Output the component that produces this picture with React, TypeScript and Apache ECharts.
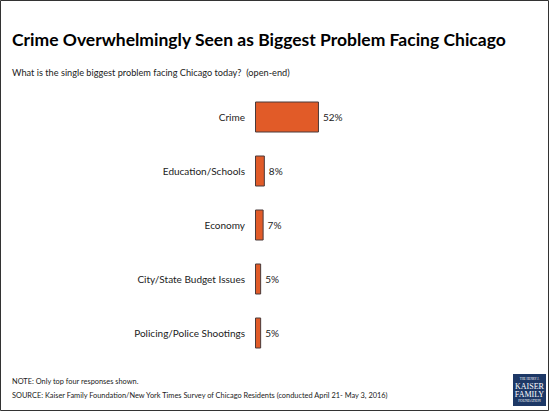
import React, { useEffect, useRef } from "react";
import * as echarts from "echarts";

const categories = [
  "Crime",
  "Education/Schools",
  "Economy",
  "City/State Budget Issues",
  "Policing/Police Shootings",
];
const values = [52, 8, 7, 5, 5];

const titleText = "Crime Overwhelmingly Seen as Biggest Problem Facing Chicago";
const subtitleText = "What is the single biggest problem facing Chicago today?  (open-end)";
const noteText = "NOTE: Only top four responses shown.";
const sourceText =
  "SOURCE: Kaiser Family Foundation/New York Times Survey of Chicago Residents (conducted April 21- May 3, 2016)";

const FONT = "Lato, 'Open Sans', sans-serif";

export default function App() {
  const ref = useRef<HTMLDivElement>(null);
  useEffect(() => {
    if (!ref.current) return;
    const chart = echarts.init(ref.current, undefined, { renderer: "svg" });
    chart.setOption({
      animation: false,
      backgroundColor: "#ffffff",
      grid: { left: 255, top: 90, width: 123, height: 270, containLabel: false },
      xAxis: { type: "value", min: 0, max: 100, show: false },
      yAxis: {
        type: "category",
        data: categories,
        inverse: true,
        axisLine: { show: false },
        axisTick: { show: false },
        axisLabel: { color: "#222", fontSize: 10, fontFamily: FONT, margin: 10 },
      },
      series: [
        {
          type: "bar",
          data: values,
          barWidth: 31,
          itemStyle: { color: "#E15B28", borderColor: "#4a3a3a", borderWidth: 1 },
          label: {
            show: true,
            position: "right",
            distance: 4,
            formatter: "{c}%",
            color: "#222",
            fontSize: 10,
            fontFamily: FONT,
          },
        },
      ],
      graphic: [
        {
          type: "rect",
          shape: { x: 0.5, y: 0.5, width: 548, height: 410 },
          style: { fill: "none", stroke: "#333", lineWidth: 1 },
          silent: true,
        },
        {
          type: "text",
          left: 12,
          top: 30,
          style: { text: titleText, fill: "#000", font: `bold 17.5px ${FONT}` },
        },
        {
          type: "text",
          left: 12,
          top: 68,
          style: { text: subtitleText, fill: "#222", font: `9.2px ${FONT}` },
        },
        {
          type: "text",
          left: 12,
          top: 378,
          style: { text: noteText, fill: "#222", font: `7.4px ${FONT}` },
        },
        {
          type: "text",
          left: 12,
          top: 392,
          style: { text: sourceText, fill: "#222", font: `7.4px ${FONT}` },
        },
        {
          type: "group",
          left: 513,
          top: 374,
          children: [
            {
              type: "rect",
              shape: { x: 0, y: 0, width: 33, height: 32 },
              style: { fill: "#1d3866" },
            },
            {
              type: "text",
              x: 16.5,
              y: 3,
              style: { text: "THE HENRY J.", fill: "#fff", font: "3px 'Liberation Serif', serif", align: "center" },
            },
            {
              type: "text",
              x: 16.5,
              y: 8,
              style: { text: "KAISER", fill: "#fff", font: "8px 'Liberation Serif', serif", align: "center" },
            },
            {
              type: "text",
              x: 16.5,
              y: 16,
              style: { text: "FAMILY", fill: "#fff", font: "8px 'Liberation Serif', serif", align: "center" },
            },
            {
              type: "text",
              x: 16.5,
              y: 25,
              style: { text: "FOUNDATION", fill: "#fff", font: "3.5px 'Liberation Serif', serif", align: "center" },
            },
          ],
        },
      ],
    });
    return () => chart.dispose();
  }, []);
  return (
    <div
      ref={ref}
      style={{ position: "fixed", left: 0, top: 0, width: 550, height: 412 }}
    />
  );
}
